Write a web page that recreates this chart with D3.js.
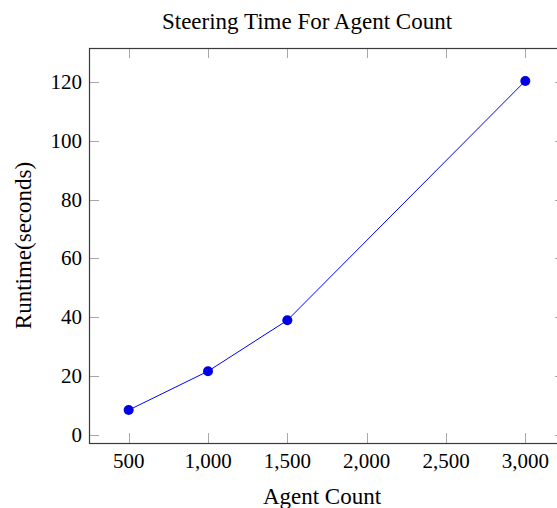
<!DOCTYPE html>
<html>
<head>
<meta charset="utf-8">
<script src="https://cdn.jsdelivr.net/npm/d3@7"></script>
<style>
  body { margin: 0; background: #fff; }
  svg text { font-family: "Liberation Serif", "Times New Roman", serif; fill: #000; }
</style>
</head>
<body>
<div id="chart"></div>
<script>
const agents = [500, 1000, 1500, 3000]
const runtime = [8.5, 21.7, 39.0, 120.3]
const xTicks = [500, 1000, 1500, 2000, 2500, 3000]
const yTicks = [0, 20, 40, 60, 80, 100, 120]

const w = 557
const h = 508
const pLeft = 89, pTop = 48, pRight = 565, pBottom = 443

const data = agents.map((a, i) => ({x: a, y: runtime[i]}))

// enlarge limits by 10% like pgfplots
const xr = d3.extent(agents), xd = (xr[1] - xr[0]) * 0.1
const yr = d3.extent(runtime), yd = (yr[1] - yr[0]) * 0.1

const xScale = d3.scaleLinear()
  .domain([xr[0] - xd, xr[1] + xd])
  .range([pLeft, pRight])

const yScale = d3.scaleLinear()
  .domain([yr[0] - yd, yr[1] + yd])
  .range([pBottom, pTop])

const svg = d3.select('#chart')
  .append('svg')
  .attr('width', w)
  .attr('height', h)

const tickLen = 10
const fmt = d3.format(',')

/*ticks, inward on all four sides*/
const ticks = svg.append('g').attr('stroke', '#a8a8a8').attr('stroke-width', 1)
xTicks.forEach(t => {
  const x = Math.round(xScale(t)) + 0.5
  ticks.append('line').attr('x1', x).attr('x2', x).attr('y1', pBottom).attr('y2', pBottom - tickLen)
  ticks.append('line').attr('x1', x).attr('x2', x).attr('y1', pTop).attr('y2', pTop + tickLen)
})
yTicks.forEach(t => {
  const y = Math.round(yScale(t)) + 0.5
  ticks.append('line').attr('x1', pLeft).attr('x2', pLeft + tickLen).attr('y1', y).attr('y2', y)
  ticks.append('line').attr('x1', pRight).attr('x2', pRight - tickLen).attr('y1', y).attr('y2', y)
})

/*frame*/
svg.append('rect')
  .attr('x', pLeft + 0.5)
  .attr('y', pTop + 0.5)
  .attr('width', pRight - pLeft)
  .attr('height', pBottom - pTop)
  .attr('fill', 'none')
  .attr('stroke', '#3a3a3a')
  .attr('stroke-width', 1.2)

/*tick labels*/
svg.append('g').selectAll('text')
  .data(xTicks)
  .enter().append('text')
  .attr('x', d => xScale(d))
  .attr('y', 468)
  .attr('text-anchor', 'middle')
  .attr('font-size', 21)
  .text(d => fmt(d))

svg.append('g').selectAll('text')
  .data(yTicks)
  .enter().append('text')
  .attr('x', 82)
  .attr('y', d => yScale(d) + 7)
  .attr('text-anchor', 'end')
  .attr('font-size', 21)
  .text(d => d)

/*line and markers*/
const line = d3.line().x(d => xScale(d.x)).y(d => yScale(d.y))
svg.append('path')
  .datum(data)
  .attr('d', line)
  .attr('fill', 'none')
  .attr('stroke', '#0000ff')
  .attr('stroke-width', 1)

svg.append('g').selectAll('circle')
  .data(data)
  .enter().append('circle')
  .attr('cx', d => xScale(d.x))
  .attr('cy', d => yScale(d.y))
  .attr('r', 5)
  .attr('fill', '#0000e6')

/*titles*/
svg.append('text')
  .attr('x', 307)
  .attr('y', 29)
  .attr('text-anchor', 'middle')
  .attr('font-size', 23)
  .text('Steering Time For Agent Count')

svg.append('text')
  .attr('x', 322)
  .attr('y', 504)
  .attr('text-anchor', 'middle')
  .attr('font-size', 23)
  .text('Agent Count')

svg.append('text')
  .attr('transform', `translate(31,${(pTop + pBottom) / 2}) rotate(-90)`)
  .attr('text-anchor', 'middle')
  .attr('font-size', 23)
  .text('Runtime(seconds)')
</script>
</body>
</html>
